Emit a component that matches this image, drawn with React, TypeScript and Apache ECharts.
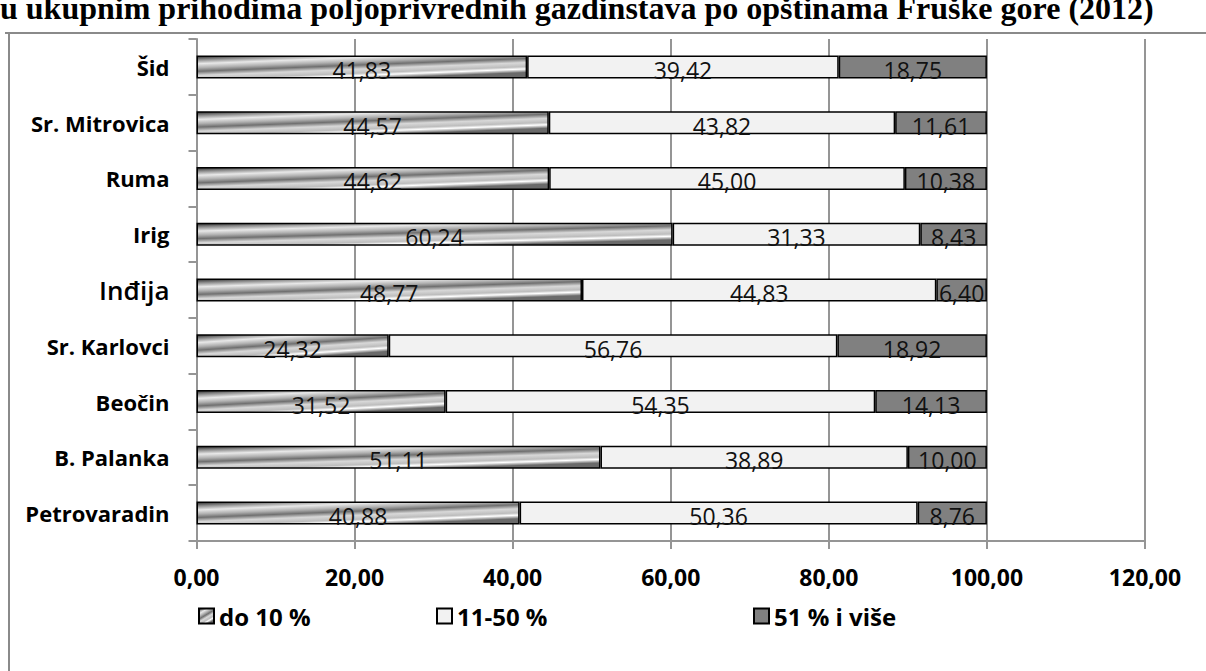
import React, { useEffect, useRef } from "react";
import * as echarts from "echarts";

const categories = ["Šid", "Sr. Mitrovica", "Ruma", "Irig", "Inđija", "Sr. Karlovci", "Beočin", "B. Palanka", "Petrovaradin"];
const seriesNames = ["do 10 %", "11-50 %", "51 % i više"];
const do10 = [41.83, 44.57, 44.62, 60.24, 48.77, 24.32, 31.52, 51.11, 40.88];
const s11to50 = [39.42, 43.82, 45.0, 31.33, 44.83, 56.76, 54.35, 38.89, 50.36];
const s51plus = [18.75, 11.61, 10.38, 8.43, 6.4, 18.92, 14.13, 10.0, 8.76];
const xTicks = { min: 0, max: 120, interval: 20 };
const titleText = "u ukupnim prihodima poljoprivrednih gazdinstava po opštinama Fruške gore (2012)";

const FONT = '"Open Sans", "Noto Sans", sans-serif';
const fmt = (v: number) => v.toFixed(2).replace(".", ",");

export default function App() {
  const ref = useRef<HTMLDivElement>(null);
  useEffect(() => {
    if (!ref.current) return;
    const chart = echarts.init(ref.current, undefined, { renderer: "svg" });
    const metal = new echarts.graphic.LinearGradient(0, 0, 0.6, 1, [
      { offset: 0, color: "#2e2e2e" },
      { offset: 0.12, color: "#8a8a8a" },
      { offset: 0.26, color: "#e8e8e8" },
      { offset: 0.4, color: "#b0b0b0" },
      { offset: 0.52, color: "#707070" },
      { offset: 0.66, color: "#d8d8d8" },
      { offset: 0.8, color: "#bdbdbd" },
      { offset: 0.88, color: "#ffffff" },
      { offset: 1, color: "#6a6a6a" },
    ]);
    const colors = [metal, "#f2f2f2", "#808080"];
    const dataSets = [do10, s11to50, s51plus];
    const label = {
      show: true,
      position: "inside",
      offset: [0, 3],
      color: "#111",
      fontFamily: FONT,
      fontSize: 23,
      formatter: (p: any) => fmt(p.value),
    };
    const legendLefts = [193, 431, 748];
    chart.setOption({
      animation: false,
      backgroundColor: "#fff",
      grid: { left: 196.5, right: 61, top: 39, bottom: 130, containLabel: false },
      legend: seriesNames.map((n, i) => ({
        data: [n],
        left: legendLefts[i],
        top: 599,
        icon: "rect",
        itemWidth: 15,
        itemHeight: 15,
        itemGap: 5,
        textStyle: { fontFamily: FONT, fontWeight: "bold", fontSize: 24, color: "#000" },
      })),
      xAxis: {
        type: "value",
        min: xTicks.min,
        max: xTicks.max,
        interval: xTicks.interval,
        axisLine: { show: true, lineStyle: { color: "#959595", width: 2 } },
        axisTick: { show: true, length: 8, lineStyle: { color: "#959595", width: 2 } },
        splitLine: { show: true, lineStyle: { color: "#959595", width: 2 } },
        axisLabel: {
          margin: 24,
          formatter: (v: number) => fmt(v),
          fontFamily: FONT,
          fontWeight: "bold",
          fontSize: 23,
          color: "#000",
        },
      },
      yAxis: {
        type: "category",
        inverse: true,
        data: categories,
        axisLine: { show: true, lineStyle: { color: "#959595", width: 2 } },
        axisTick: { show: true, length: 8, lineStyle: { color: "#959595", width: 2 } },
        axisLabel: {
          margin: 27,
          fontFamily: FONT,
          fontWeight: "bold",
          fontSize: 22,
          color: "#000",
          formatter: (v: string) => (v === "Inđija" ? "{big|" + v + "}" : v),
          rich: {
            big: { fontFamily: FONT, fontWeight: 600, fontSize: 26, color: "#000" },
          },
        },
      },
      series: dataSets.map((d, i) => ({
        name: seriesNames[i],
        type: "bar",
        stack: "total",
        barWidth: 23,
        data: d,
        itemStyle: { color: colors[i], borderColor: "#000", borderWidth: 1.5 },
        label,
      })),
      graphic: [
        {
          type: "line",
          shape: { x1: 9, y1: 33, x2: 9, y2: 700 },
          style: { stroke: "#8a8a8a", lineWidth: 2 },
        },
        {
          type: "line",
          shape: { x1: 5, y1: 33, x2: 1220, y2: 33 },
          style: { stroke: "#8a8a8a", lineWidth: 2 },
        },
        {
          type: "text",
          x: 0,
          y: 8,
          style: {
            text: titleText,
            fill: "#000",
            font: 'bold 32px "Liberation Serif", "DejaVu Serif", serif',
            verticalAlign: "middle",
            align: "left",
          },
        },
      ],
    });
    return () => chart.dispose();
  }, []);
  return <div ref={ref} style={{ position: "fixed", left: 0, top: 0, width: 1206, height: 671 }} />;
}
